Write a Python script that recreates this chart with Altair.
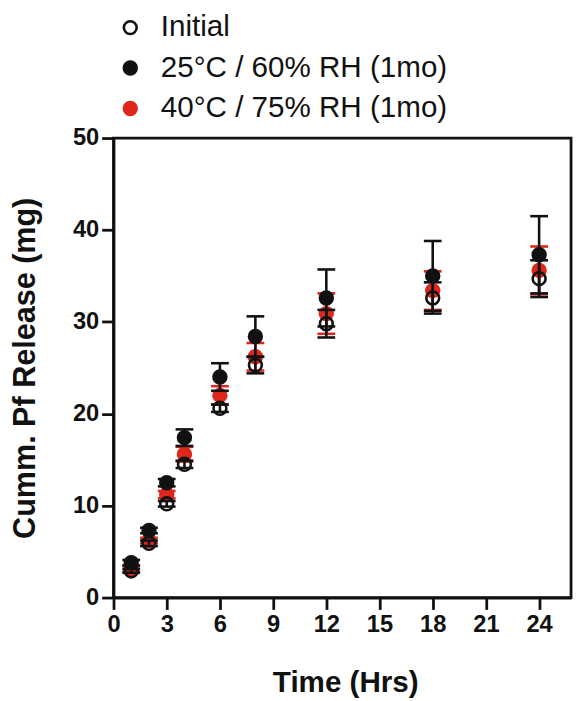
import altair as alt
import pandas as pd

times = [1, 2, 3, 4, 6, 8, 12, 18, 24]
series_names = ["Initial", "25°C / 60% RH (1mo)", "40°C / 75% RH (1mo)"]

initial_mean = [2.9, 5.9, 10.2, 14.5, 20.6, 25.3, 29.8, 32.6, 34.7]
initial_sd = [0.2, 0.3, 0.3, 0.4, 0.4, 0.9, 1.5, 1.7, 2.0]
c25_mean = [3.8, 7.3, 12.5, 17.4, 24.0, 28.4, 32.6, 35.0, 37.3]
c25_sd = [0.3, 0.3, 0.4, 0.9, 1.5, 2.2, 3.1, 3.8, 4.2]
c40_mean = [3.1, 6.2, 11.2, 15.6, 22.0, 26.2, 30.9, 33.4, 35.6]
c40_sd = [0.3, 0.3, 0.4, 0.8, 1.0, 1.5, 2.2, 2.1, 2.6]

x_ticks = [0, 3, 6, 9, 12, 15, 18, 21, 24]
y_ticks = [0, 10, 20, 30, 40, 50]

fills = ["transparent", "#111111", "#e0261c"]
strokes = ["#111111", "#111111", "#e0261c"]


def frame(name, means, sds):
    return pd.DataFrame({
        "time": times,
        "series": name,
        "mean": means,
        "lo": [m - s for m, s in zip(means, sds)],
        "hi": [m + s for m, s in zip(means, sds)],
    })


frames = {
    series_names[0]: frame(series_names[0], initial_mean, initial_sd),
    series_names[1]: frame(series_names[1], c25_mean, c25_sd),
    series_names[2]: frame(series_names[2], c40_mean, c40_sd),
}

FONT = "Liberation Sans"

x_enc = alt.X(
    "time:Q",
    scale=alt.Scale(domain=[0, 25.8], nice=False, zero=False),
    axis=alt.Axis(values=x_ticks, title="Time (Hrs)", grid=False, titleX=235),
)
y_scale = alt.Scale(domain=[0, 50], nice=False)

fill_scale = alt.Scale(domain=series_names, range=fills)
stroke_scale = alt.Scale(domain=series_names, range=strokes)

legend = alt.Legend(
    title=None,
    orient="none",
    legendX=2,
    legendY=-127,
    labelFont=FONT,
    labelFontSize=30,
    labelColor="#111111",
    labelLimit=0,
    labelOffset=16,
    rowPadding=11,
    symbolSize=170,
    symbolStrokeWidth=2.6,
    symbolOpacity=1,
    padding=0,
)

layers = []
color_map = dict(zip(series_names, strokes))
for name in [series_names[2], series_names[1], series_names[0]]:
    df = frames[name]
    base = alt.Chart(df)
    col = color_map[name]
    rule = base.mark_rule(strokeWidth=2.6, color=col).encode(
        x=x_enc,
        y=alt.Y("lo:Q", scale=y_scale,
                axis=alt.Axis(values=y_ticks, title="Cumm. Pf Release (mg)", grid=False)),
        y2="hi:Q",
    )
    cap_lo = base.mark_tick(orient="horizontal", size=18, thickness=2.6, color=col, opacity=1).encode(
        x=x_enc, y=alt.Y("lo:Q", scale=y_scale)
    )
    cap_hi = base.mark_tick(orient="horizontal", size=18, thickness=2.6, color=col, opacity=1).encode(
        x=x_enc, y=alt.Y("hi:Q", scale=y_scale)
    )
    pts = base.mark_circle(size=170, strokeWidth=2.6, opacity=1).encode(
        x=x_enc,
        y=alt.Y("mean:Q", scale=y_scale),
        fill=alt.Fill("series:N", scale=fill_scale, legend=legend),
        stroke=alt.Stroke("series:N", scale=stroke_scale, legend=legend),
    )
    layers += [rule, cap_lo, cap_hi, pts]

chart = alt.layer(*layers).properties(
    width=464,
    height=466,
    autosize=alt.AutoSizeParams(type="none"),
    padding={"left": 107, "top": 127, "right": 3, "bottom": 100},
).configure_view(
    stroke="#111111", strokeWidth=2.8
).configure_axis(
    domainColor="#111111",
    domainWidth=2.8,
    tickColor="#111111",
    tickWidth=2.8,
    tickSize=12,
    labelFont=FONT,
    labelFontWeight="bold",
    labelFontSize=24,
    labelColor="#111111",
    labelPadding=3,
    titleFont=FONT,
    titleFontWeight="bold",
    titleFontSize=30,
    titleColor="#111111",
).configure_axisX(
    titlePadding=32,
    labelFlush=False,
).configure_axisY(
    titlePadding=31,
    titleFontSize=31,
    labelFlush=False,
)

chart.save("out.html", embed_options={"renderer": "svg", "actions": False})
